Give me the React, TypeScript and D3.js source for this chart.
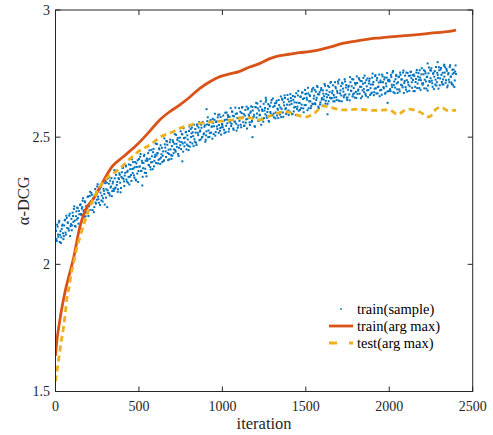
import React from 'react';
import * as d3 from 'd3';

const W = 493;
const H = 435;

const BLUE = '#0072BD';
const ORANGE = '#D95319';
const YELLOW = '#EDB120';
const AXIS = '#262626';
const FONT = "'Liberation Serif', 'Times New Roman', Times, 'DejaVu Serif', serif";

const xTicks = [0, 500, 1000, 1500, 2000, 2500];
const yTicks = [1.5, 2, 2.5, 3];
const yTickLabels = ['1.5', '2', '2.5', '3'];

// train(sample): one value every 5 iterations, 0..2400
const sampleStep = 5;
const trainSample = [
  2.137, 2.100, 2.156, 2.117, 2.165, 2.088, 2.130, 2.106, 2.152, 2.122, 2.111, 2.173, 2.125, 2.191, 2.143, 2.164, 2.133, 2.199, 2.150, 2.179,
  2.153, 2.190, 2.218, 2.172, 2.148, 2.208, 2.223, 2.182, 2.210, 2.147, 2.236, 2.194, 2.225, 2.260, 2.207, 2.248, 2.189, 2.230, 2.220, 2.267,
  2.228, 2.269, 2.214, 2.281, 2.241, 2.258, 2.205, 2.273, 2.243, 2.285, 2.306, 2.266, 2.242, 2.297, 2.282, 2.251, 2.320, 2.260, 2.289, 2.235,
  2.327, 2.295, 2.336, 2.281, 2.317, 2.271, 2.302, 2.339, 2.288, 2.325, 2.289, 2.338, 2.302, 2.369, 2.324, 2.295, 2.335, 2.352, 2.283, 2.344,
  2.340, 2.380, 2.326, 2.349, 2.389, 2.333, 2.363, 2.321, 2.393, 2.344, 2.390, 2.328, 2.375, 2.402, 2.350, 2.382, 2.334, 2.397, 2.357, 2.324,
  2.414, 2.385, 2.434, 2.368, 2.399, 2.378, 2.426, 2.360, 2.408, 2.346, 2.407, 2.437, 2.391, 2.415, 2.373, 2.450, 2.402, 2.441, 2.385, 2.422,
  2.475, 2.428, 2.438, 2.397, 2.456, 2.415, 2.468, 2.433, 2.402, 2.444, 2.409, 2.472, 2.444, 2.485, 2.470, 2.410, 2.434, 2.480, 2.452, 2.415,
  2.427, 2.481, 2.452, 2.512, 2.443, 2.474, 2.489, 2.434, 2.458, 2.498, 2.523, 2.481, 2.511, 2.443, 2.496, 2.479, 2.519, 2.452, 2.507, 2.466,
  2.524, 2.463, 2.532, 2.515, 2.475, 2.504, 2.549, 2.482, 2.518, 2.469, 2.545, 2.508, 2.559, 2.522, 2.491, 2.537, 2.501, 2.556, 2.515, 2.547,
  2.490, 2.523, 2.563, 2.500, 2.548, 2.516, 2.568, 2.541, 2.494, 2.556, 2.543, 2.592, 2.520, 2.562, 2.532, 2.588, 2.548, 2.525, 2.579, 2.539,
  2.548, 2.585, 2.529, 2.568, 2.520, 2.597, 2.555, 2.579, 2.533, 2.563, 2.614, 2.552, 2.600, 2.534, 2.582, 2.561, 2.592, 2.526, 2.575, 2.546,
  2.614, 2.577, 2.549, 2.595, 2.619, 2.559, 2.544, 2.585, 2.557, 2.620, 2.572, 2.614, 2.583, 2.548, 2.601, 2.560, 2.619, 2.578, 2.588, 2.541,
  2.618, 2.577, 2.632, 2.565, 2.605, 2.588, 2.641, 2.573, 2.603, 2.561, 2.575, 2.615, 2.639, 2.584, 2.599, 2.630, 2.561, 2.621, 2.592, 2.646,
  2.587, 2.619, 2.578, 2.633, 2.597, 2.643, 2.612, 2.575, 2.626, 2.589, 2.660, 2.611, 2.647, 2.580, 2.625, 2.654, 2.614, 2.597, 2.666, 2.605,
  2.640, 2.600, 2.654, 2.631, 2.591, 2.647, 2.617, 2.659, 2.587, 2.636, 2.620, 2.682, 2.635, 2.608, 2.660, 2.628, 2.676, 2.613, 2.653, 2.686,
  2.626, 2.655, 2.606, 2.672, 2.641, 2.662, 2.614, 2.680, 2.632, 2.694, 2.663, 2.633, 2.679, 2.655, 2.697, 2.620, 2.668, 2.629, 2.685, 2.648,
  2.624, 2.671, 2.661, 2.702, 2.643, 2.684, 2.631, 2.666, 2.697, 2.655, 2.717, 2.654, 2.682, 2.641, 2.656, 2.716, 2.692, 2.646, 2.674, 2.711,
  2.726, 2.672, 2.701, 2.641, 2.710, 2.679, 2.664, 2.719, 2.695, 2.655, 2.656, 2.698, 2.668, 2.736, 2.683, 2.700, 2.660, 2.727, 2.672, 2.713,
  2.678, 2.739, 2.670, 2.687, 2.727, 2.698, 2.653, 2.720, 2.684, 2.733, 2.677, 2.714, 2.663, 2.700, 2.731, 2.685, 2.721, 2.666, 2.707, 2.675,
  2.750, 2.717, 2.677, 2.740, 2.692, 2.724, 2.672, 2.699, 2.746, 2.684, 2.716, 2.667, 2.739, 2.697, 2.727, 2.671, 2.711, 2.734, 2.680, 2.720,
  2.726, 2.689, 2.745, 2.706, 2.754, 2.677, 2.719, 2.695, 2.741, 2.711, 2.674, 2.736, 2.688, 2.754, 2.706, 2.727, 2.696, 2.762, 2.713, 2.742,
  2.687, 2.724, 2.752, 2.706, 2.682, 2.742, 2.757, 2.716, 2.744, 2.681, 2.740, 2.698, 2.729, 2.764, 2.711, 2.752, 2.693, 2.734, 2.724, 2.771,
  2.706, 2.747, 2.692, 2.759, 2.719, 2.736, 2.683, 2.751, 2.721, 2.763, 2.762, 2.722, 2.698, 2.753, 2.738, 2.707, 2.776, 2.716, 2.745, 2.691,
  2.763, 2.731, 2.772, 2.717, 2.753, 2.707, 2.738, 2.775, 2.724, 2.761, 2.703, 2.752, 2.716, 2.783, 2.738, 2.709, 2.749, 2.766, 2.697, 2.758,
  2.748,
];

// train(sample), the iterations in between (2.5, 7.5, ... 2397.5)
const sampleOffset = 2.5;
const trainSampleMid = [
  2.131, 2.092, 2.148, 2.108, 2.171, 2.116, 2.084, 2.139, 2.156, 2.099, 2.153, 2.175, 2.117, 2.182, 2.164, 2.140, 2.191, 2.111, 2.158, 2.134,
  2.203, 2.167, 2.228, 2.151, 2.189, 2.176, 2.221, 2.160, 2.197, 2.233, 2.198, 2.219, 2.250, 2.212, 2.187, 2.244, 2.203, 2.228, 2.265, 2.190,
  2.234, 2.285, 2.248, 2.273, 2.213, 2.260, 2.225, 2.296, 2.239, 2.254, 2.315, 2.256, 2.293, 2.233, 2.304, 2.270, 2.247, 2.297, 2.277, 2.319,
  2.262, 2.321, 2.291, 2.340, 2.279, 2.329, 2.306, 2.268, 2.318, 2.297, 2.370, 2.298, 2.352, 2.312, 2.285, 2.339, 2.358, 2.321, 2.300, 2.362,
  2.379, 2.336, 2.308, 2.360, 2.385, 2.325, 2.368, 2.344, 2.314, 2.374, 2.351, 2.413, 2.359, 2.377, 2.341, 2.402, 2.330, 2.383, 2.409, 2.367,
  2.384, 2.423, 2.367, 2.407, 2.344, 2.399, 2.431, 2.376, 2.359, 2.416, 2.412, 2.390, 2.448, 2.383, 2.401, 2.425, 2.374, 2.454, 2.407, 2.431,
  2.398, 2.473, 2.436, 2.411, 2.452, 2.395, 2.420, 2.458, 2.427, 2.406, 2.495, 2.459, 2.422, 2.483, 2.438, 2.451, 2.413, 2.490, 2.429, 2.465,
  2.488, 2.437, 2.474, 2.449, 2.509, 2.462, 2.497, 2.426, 2.483, 2.468, 2.453, 2.512, 2.475, 2.535, 2.464, 2.498, 2.521, 2.471, 2.491, 2.449,
  2.542, 2.480, 2.501, 2.538, 2.519, 2.465, 2.492, 2.532, 2.478, 2.550, 2.517, 2.538, 2.488, 2.526, 2.549, 2.499, 2.560, 2.511, 2.541, 2.482,
  2.507, 2.550, 2.578, 2.526, 2.501, 2.561, 2.518, 2.542, 2.572, 2.512, 2.568, 2.506, 2.560, 2.542, 2.578, 2.517, 2.589, 2.536, 2.510, 2.552,
  2.539, 2.563, 2.516, 2.596, 2.545, 2.569, 2.587, 2.522, 2.580, 2.558, 2.544, 2.601, 2.584, 2.529, 2.561, 2.616, 2.553, 2.593, 2.537, 2.576,
  2.564, 2.600, 2.539, 2.616, 2.578, 2.591, 2.546, 2.607, 2.570, 2.534, 2.610, 2.589, 2.558, 2.596, 2.621, 2.564, 2.605, 2.580, 2.543, 2.618,
  2.635, 2.593, 2.613, 2.563, 2.586, 2.620, 2.549, 2.609, 2.572, 2.631, 2.605, 2.590, 2.647, 2.576, 2.611, 2.564, 2.624, 2.599, 2.636, 2.585,
  2.652, 2.593, 2.623, 2.574, 2.635, 2.585, 2.608, 2.646, 2.596, 2.617, 2.579, 2.651, 2.597, 2.637, 2.664, 2.610, 2.591, 2.628, 2.649, 2.587,
  2.627, 2.669, 2.643, 2.590, 2.662, 2.601, 2.637, 2.619, 2.673, 2.611, 2.664, 2.604, 2.634, 2.658, 2.615, 2.675, 2.650, 2.598, 2.626, 2.669,
  2.671, 2.647, 2.694, 2.614, 2.665, 2.641, 2.623, 2.688, 2.630, 2.652, 2.686, 2.629, 2.646, 2.701, 2.669, 2.614, 2.677, 2.637, 2.693, 2.654,
  2.684, 2.648, 2.709, 2.632, 2.670, 2.657, 2.702, 2.641, 2.678, 2.714, 2.652, 2.673, 2.704, 2.666, 2.641, 2.698, 2.657, 2.682, 2.719, 2.644,
  2.642, 2.684, 2.664, 2.714, 2.691, 2.657, 2.728, 2.668, 2.705, 2.646, 2.687, 2.702, 2.645, 2.716, 2.681, 2.728, 2.668, 2.693, 2.656, 2.707,
  2.654, 2.713, 2.683, 2.732, 2.671, 2.721, 2.698, 2.660, 2.710, 2.689, 2.742, 2.670, 2.724, 2.684, 2.657, 2.711, 2.730, 2.693, 2.672, 2.734,
  2.707, 2.665, 2.691, 2.744, 2.672, 2.733, 2.697, 2.715, 2.661, 2.723, 2.686, 2.746, 2.716, 2.692, 2.735, 2.675, 2.700, 2.752, 2.724, 2.681,
  2.720, 2.681, 2.737, 2.697, 2.760, 2.705, 2.673, 2.728, 2.745, 2.688, 2.716, 2.738, 2.680, 2.745, 2.727, 2.703, 2.754, 2.674, 2.721, 2.697,
  2.754, 2.679, 2.716, 2.741, 2.700, 2.757, 2.732, 2.694, 2.725, 2.746, 2.681, 2.717, 2.754, 2.693, 2.738, 2.725, 2.763, 2.686, 2.747, 2.711,
  2.712, 2.763, 2.726, 2.751, 2.691, 2.738, 2.703, 2.774, 2.717, 2.732, 2.771, 2.712, 2.749, 2.689, 2.760, 2.726, 2.703, 2.753, 2.733, 2.775,
  2.704, 2.766, 2.745, 2.708, 2.727, 2.781, 2.754, 2.714, 2.768, 2.696, 2.747, 2.726, 2.776, 2.738, 2.715, 2.765, 2.704, 2.753, 2.723, 2.782,
];

// a few stray samples outside the band
const strayIter = [310, 520, 760, 905, 1180, 1260, 1630, 1990, 2230, 2290, 2330];
const strayValue = [2.225, 2.31, 2.405, 2.61, 2.5, 2.655, 2.59, 2.635, 2.79, 2.795, 2.785];

// train(arg max)
const trainIter = [0, 10, 20, 40, 60, 75, 95, 110, 140, 180, 230, 280, 340, 410, 480, 560, 620, 680, 745, 800, 865, 930, 985, 1050, 1100, 1160, 1225, 1280, 1325, 1400, 1460, 1520, 1580, 1650, 1720, 1800, 1920, 2000, 2120, 2200, 2280, 2350, 2400];
const trainArgMax = [1.64, 1.71, 1.755, 1.835, 1.9, 1.94, 1.99, 2.03, 2.13, 2.215, 2.26, 2.32, 2.385, 2.425, 2.465, 2.52, 2.565, 2.598, 2.627, 2.655, 2.692, 2.72, 2.738, 2.75, 2.758, 2.775, 2.79, 2.808, 2.818, 2.826, 2.832, 2.836, 2.843, 2.855, 2.869, 2.878, 2.889, 2.894, 2.9, 2.905, 2.911, 2.915, 2.921];

// test(arg max)
const testIter = [0, 19, 35, 49, 59, 69, 83, 93, 109, 119, 148, 208, 248, 308, 378, 438, 498, 567, 627, 700, 745, 824, 944, 1063, 1143, 1223, 1301, 1383, 1442, 1502, 1562, 1602, 1642, 1721, 1821, 1901, 2000, 2050, 2110, 2180, 2240, 2280, 2310, 2350, 2400];
const testArgMax = [1.54, 1.626, 1.7, 1.756, 1.81, 1.87, 1.914, 1.96, 2.006, 2.04, 2.11, 2.228, 2.286, 2.339, 2.372, 2.41, 2.444, 2.47, 2.5, 2.52, 2.535, 2.55, 2.56, 2.568, 2.578, 2.568, 2.588, 2.6, 2.588, 2.58, 2.6, 2.623, 2.618, 2.607, 2.61, 2.605, 2.607, 2.59, 2.61, 2.6, 2.58, 2.61, 2.618, 2.605, 2.605];

const legendLabels = ['train(sample)', 'train(arg max)', 'test(arg max)'];

export default function App() {
  const left = 55.5;
  const right = 472.7;
  const top = 10;
  const bottom = 391.5;

  const x = d3.scaleLinear().domain([0, 2500]).range([left, right]);
  const y = d3.scaleLinear().domain([1.5, 3]).range([bottom, top]);

  const lineGen = d3
    .line<[number, number]>()
    .x((d) => x(d[0]))
    .y((d) => y(d[1]))
    .curve(d3.curveMonotoneX);

  const trainPath = lineGen(trainIter.map((it, i) => [it, trainArgMax[i]]));
  const testPath = lineGen(testIter.map((it, i) => [it, testArgMax[i]]));

  const dots: [number, number][] = [
    ...trainSample.map((v, i) => [i * sampleStep, v] as [number, number]),
    ...trainSampleMid.map((v, i) => [i * sampleStep + sampleOffset, v] as [number, number]),
    ...strayIter.map((it, i) => [it, strayValue[i]] as [number, number]),
  ];

  const tickLen = 5;
  const legX = 329;
  const legY = [309, 326, 343];
  const txt = { fontFamily: FONT };
  const dot = 2;

  return (
    <svg
      width={W}
      height={H}
      style={{ position: 'absolute', left: 0, top: 0, background: '#fff', fontFamily: FONT }}
    >
      <defs>
        <clipPath id="plot-clip">
          <rect x={left} y={top} width={right - left} height={bottom - top} />
        </clipPath>
      </defs>

      <g clipPath="url(#plot-clip)">
        {dots.map((d, i) => (
          <rect key={i} x={x(d[0]) - dot / 2} y={y(d[1]) - dot / 2} width={dot} height={dot} fill={BLUE} />
        ))}
        <path d={trainPath ?? ''} fill="none" stroke={ORANGE} strokeWidth={2.8} strokeLinejoin="round" />
        <path d={testPath ?? ''} fill="none" stroke={YELLOW} strokeWidth={2.8} strokeDasharray="6,4" />
      </g>

      {/* box */}
      <rect x={left} y={top} width={right - left} height={bottom - top} fill="none" stroke={AXIS} strokeWidth={1} />

      {/* x ticks */}
      {xTicks.map((t) => (
        <g key={t}>
          <line x1={x(t)} x2={x(t)} y1={bottom} y2={bottom - tickLen} stroke={AXIS} />
          <line x1={x(t)} x2={x(t)} y1={top} y2={top + tickLen} stroke={AXIS} />
          <text x={x(t)} y={411} textAnchor="middle" fontSize={14} fill={AXIS} style={txt}>
            {t}
          </text>
        </g>
      ))}

      {/* y ticks */}
      {yTicks.map((t, i) => (
        <g key={t}>
          <line x1={left} x2={left + tickLen} y1={y(t)} y2={y(t)} stroke={AXIS} />
          <line x1={right} x2={right - tickLen} y1={y(t)} y2={y(t)} stroke={AXIS} />
          <text x={50} y={y(t)} dy="0.35em" textAnchor="end" fontSize={14} fill={AXIS} style={txt}>
            {yTickLabels[i]}
          </text>
        </g>
      ))}

      <text x={(left + right) / 2} y={429} textAnchor="middle" fontSize={16.5} fill={AXIS} style={txt}>
        iteration
      </text>
      <text
        transform={`translate(29, ${(top + bottom) / 2}) rotate(-90)`}
        textAnchor="middle"
        fontSize={16.5}
        fill={AXIS}
        style={txt}
      >
        α-DCG
      </text>

      {/* legend */}
      <rect x={legX + 11.2} y={legY[0] - 0.8} width={1.6} height={1.6} fill={BLUE} />
      <line x1={legX} x2={legX + 24} y1={legY[1]} y2={legY[1]} stroke={ORANGE} strokeWidth={2.8} />
      <line x1={legX} x2={legX + 24} y1={legY[2]} y2={legY[2]} stroke={YELLOW} strokeWidth={2.8} strokeDasharray="8,12" />
      {legendLabels.map((s, i) => (
        <text key={s} x={357} y={legY[i] + 5} fontSize={14.5} fill="#000" style={txt}>
          {s}
        </text>
      ))}
    </svg>
  );
}
